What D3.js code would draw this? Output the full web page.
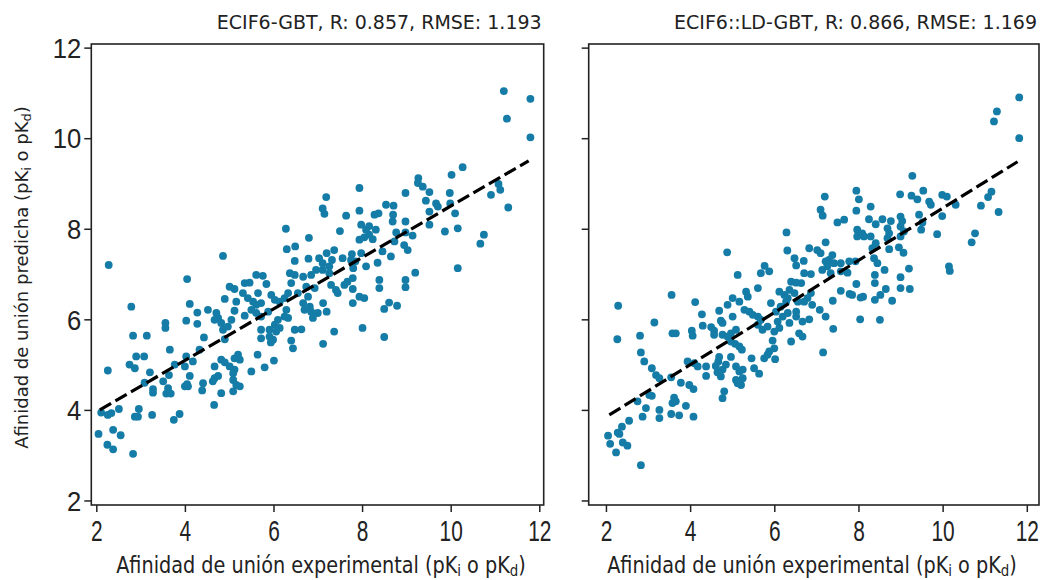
<!DOCTYPE html>
<html>
<head>
<meta charset="utf-8">
<script src="https://cdn.jsdelivr.net/npm/d3@7"></script>
<style>
  body { margin: 0; background: #fff; }
  svg { display: block; font-family: "DejaVu Sans", sans-serif; }
</style>
</head>
<body>
<div id="chart"></div>
<script>
// tick values shared by both panels
var ticks = [2, 4, 6, 8, 10, 12];

var titles = ["ECIF6-GBT, R: 0.857, RMSE: 1.193", "ECIF6::LD-GBT, R: 0.866, RMSE: 1.169"];

// [experimental, predicted]
var gbtPoints = [
  [2.28,7.20],[4.86,7.40],[6.28,8.00],[6.80,7.80],[6.30,7.55],[6.49,7.61],[6.48,7.29],[6.79,7.34],
  [11.20,11.04],[11.80,10.87],[11.27,10.43],[11.80,10.02],[10.27,9.36],[10.02,9.19],[9.27,9.12],[9.26,9.01],
  [9.37,8.93],[9.52,8.81],[8.98,8.79],[7.94,8.90],[7.19,8.70],[7.11,8.45],[7.15,8.33],[9.98,8.79],
  [11.08,8.99],[11.12,8.86],[10.91,8.75],[11.30,8.47],[9.44,8.62],[9.67,8.56],[9.71,8.49],[9.99,8.56],
  [9.52,8.38],[10.10,8.34],[8.54,8.53],[8.71,8.51],[7.64,8.29],[7.94,8.40],[8.28,8.31],[8.37,8.34],
  [8.70,8.31],[8.69,8.16],[8.98,8.16],[9.52,8.09],[7.50,7.95],[7.98,8.09],[8.16,8.06],[8.09,7.98],
  [8.31,7.98],[8.16,7.87],[7.94,7.76],[8.05,7.81],[8.24,7.77],[8.77,7.92],[8.98,7.92],[9.14,7.85],
  [9.87,7.94],[10.16,8.01],[8.73,7.72],[8.95,7.64],[9.03,7.53],[8.46,7.50],[8.65,7.39],[9.20,7.03],
  [10.16,7.13],[10.75,7.87],[10.67,7.67],[7.98,7.46],[7.77,7.44],[8.35,7.25],[8.09,7.17],[7.85,7.28],
  [7.37,7.53],[7.20,7.46],[7.56,7.35],[7.32,7.31],[7.03,7.35],[7.11,7.24],[7.26,7.17],[6.96,7.09],
  [7.11,7.09],[7.75,7.31],[7.80,7.13],
  [4.05,6.89],[2.79,6.28],[4.11,6.34],[4.28,6.15],[4.03,5.97],[4.28,5.90],[3.56,5.92],[3.56,5.81],
  [2.83,5.64],[3.14,5.64],[4.43,5.60],[3.66,5.33],[2.90,5.18],[3.08,5.18],[2.26,4.87],[2.75,5.00],
  [2.87,4.92],[3.21,4.83],[3.09,4.60],[3.28,4.46],[3.28,4.38],[3.51,4.63],[3.62,4.48],[3.58,4.36],
  [3.68,4.36],[3.64,4.77],[3.77,5.00],[4.00,4.96],[4.18,5.07],[4.03,5.18],[4.11,4.75],[4.00,4.52],
  [4.07,4.52],[4.05,4.57],[4.41,4.59],[4.39,4.43],[4.66,4.11],[3.88,3.91],[3.75,3.78],[3.26,3.89],
  [2.96,4.02],[2.87,3.85],[2.94,3.85],[2.51,4.02],[2.11,3.94],[2.26,3.89],[2.34,3.93],[2.05,3.47],
  [2.38,3.56],[2.55,3.44],[2.25,3.23],[2.38,3.13],[2.83,3.03],
  [4.52,6.21],[4.71,6.14],[4.75,6.03],[4.67,5.99],[4.82,5.92],[4.86,5.77],[4.97,5.84],[4.90,5.56],
  [5.12,6.19],[5.05,5.99],[4.90,6.45],[5.01,6.72],[5.12,6.67],[5.16,6.39],[5.35,6.80],[5.46,6.81],
  [5.31,6.58],[5.42,6.47],[5.54,6.39],[5.35,6.08],[5.61,6.98],[5.76,6.96],[5.84,6.78],[5.65,6.58],
  [5.72,6.36],[5.61,6.32],[5.50,6.21],[5.61,6.14],[5.72,6.06],[5.88,6.17],[5.95,6.54],[6.03,6.43],
  [6.14,6.39],[6.25,6.47],[6.33,6.58],[6.40,6.80],[6.37,7.02],[6.48,6.98],[6.67,6.94],[6.85,6.98],
  [6.74,6.72],[6.93,6.69],[6.55,6.58],[6.78,6.50],[6.67,6.36],[6.82,6.28],[6.70,6.21],[6.85,6.17],
  [7.00,6.14],[6.89,6.03],[6.29,6.21],[6.25,6.06],[6.33,6.03],[6.10,5.99],[6.03,5.88],[5.91,5.77],
  [6.14,5.81],[6.06,5.73],[5.72,5.77],[5.91,5.62],[5.99,5.55],[5.94,5.49],[5.72,5.58],[6.48,5.77],
  [6.63,5.78],[6.40,5.53],[6.44,5.36],[5.64,5.22],[6.01,5.09],[5.80,4.94],[5.50,4.85],[5.20,5.22],
  [5.12,5.14],[5.24,5.11],[5.01,4.96],[5.12,4.89],[5.09,4.81],[4.82,5.11],[4.90,5.05],[4.67,4.96],
  [4.75,4.75],[4.67,4.70],[4.63,4.63],[5.09,4.66],[5.16,4.55],[5.24,4.52],[5.09,4.41],[4.82,4.37],
  [4.33,5.33],
  [7.26,7.02],[7.30,6.76],[7.41,6.65],[7.45,6.58],[7.60,6.76],[7.67,6.83],[7.79,6.91],[7.79,6.67],
  [7.79,6.36],[7.94,6.50],[8.05,6.47],[8.39,6.87],[8.39,6.69],[8.98,6.87],[8.98,6.71],[8.61,6.37],
  [8.79,6.30],[8.50,6.23],[7.12,6.36],[7.20,6.17],[7.37,5.73],[8.01,5.81],[8.50,5.61],[7.12,5.46]
];

var ldPoints = [
  [4.88,7.48],[6.29,7.92],[6.31,7.52],[5.77,7.18],[6.48,7.35],[6.52,7.19],[6.70,7.29],[5.13,6.98],
  [5.68,7.02],[5.88,7.06],
  [11.82,10.90],[11.29,10.59],[11.22,10.37],[11.82,10.00],[9.28,9.17],[7.95,8.84],[7.20,8.71],[8.01,8.65],
  [8.99,8.76],[9.26,8.73],[9.40,8.65],[9.54,8.84],[9.68,8.60],[9.72,8.53],[9.99,8.75],[10.10,8.71],
  [10.31,8.53],[10.91,8.51],[11.08,8.70],[11.16,8.82],[11.33,8.37],[8.29,8.49],[7.10,8.42],[7.15,8.29],
  [7.95,8.40],[7.50,8.14],[7.66,8.20],[8.25,8.21],[8.41,8.10],[8.57,8.21],[8.77,8.17],[9.00,8.27],
  [9.04,8.17],[9.44,8.31],[9.52,8.14],[9.49,7.98],[9.99,8.28],[9.87,7.88],[10.77,7.90],[10.69,7.70],
  [7.97,7.98],[8.09,7.90],[7.97,7.83],[8.13,7.83],[8.69,8.01],[8.73,7.90],[8.69,7.79],[8.29,7.83],
  [8.41,7.68],[9.00,8.05],[9.08,7.94],[9.00,7.83],[7.22,7.70],[6.83,7.57],[7.02,7.53],[7.10,7.46],
  [7.38,7.42],[7.30,7.31],[7.22,7.28],[7.42,7.24],[7.26,7.17],[7.58,7.24],[7.78,7.28],[7.93,7.28],
  [8.33,7.57],[8.37,7.35],[8.45,7.24],[8.73,7.55],[8.96,7.59],[9.07,7.47],[8.62,7.09],[9.20,7.12],
  [10.15,7.17],[10.17,7.07],[6.87,7.00],[7.14,7.09],[7.34,7.02],[7.58,7.06],
  [2.29,6.30],[2.27,5.56],[3.56,6.54],[3.15,5.93],[2.81,5.64],[3.58,5.69],[3.66,5.69],[4.12,6.38],
  [4.04,5.75],[4.06,5.64],[4.28,6.11],[2.83,5.27],[2.91,5.07],[3.09,4.92],[3.19,4.77],[3.27,4.70],
  [3.55,4.72],[3.78,4.60],[3.98,4.55],[4.08,4.46],[3.94,5.07],[4.10,5.03],[4.18,4.96],[2.75,4.19],
  [3.03,4.33],[3.09,4.31],[2.95,4.04],[2.87,3.85],[3.27,4.00],[3.27,3.82],[3.62,4.27],[3.66,4.19],
  [3.58,4.15],[3.55,3.91],[3.74,3.88],[3.90,4.09],[4.08,3.85],[2.55,3.76],[2.38,3.63],[2.28,3.50],
  [2.32,3.47],[2.05,3.43],[2.10,3.25],[2.24,3.06],[2.40,3.28],[2.51,3.21],[2.83,2.78],
  [4.30,5.86],[4.50,5.83],[4.57,5.75],[4.73,5.97],[4.77,5.92],[4.69,6.19],[4.89,6.32],[5.01,6.47],
  [5.17,6.39],[5.33,6.61],[5.37,6.50],[5.61,6.69],[5.29,6.21],[5.41,6.17],[5.49,6.10],[5.61,6.06],
  [5.01,6.06],[5.09,5.77],[4.97,5.69],[4.57,5.66],[4.77,5.66],[4.89,5.62],[4.97,5.51],[5.07,5.46],
  [5.17,5.40],[5.23,5.33],[4.69,5.17],[4.67,5.07],[4.61,4.97],[4.38,4.96],[4.38,4.75],[4.77,4.89],
  [4.85,5.00],[4.65,4.83],[4.73,4.74],[4.81,4.41],[4.77,4.26],[4.97,5.17],[5.09,4.96],[5.17,4.85],
  [5.09,4.66],[5.21,4.55],[5.13,4.59],[5.25,4.70],[5.25,4.89],[5.46,5.14],[5.52,4.92],[5.64,4.80],
  [5.76,5.14],[5.84,5.22],[6.02,5.12],[5.96,5.53],[6.00,5.36],[5.88,5.29],[5.72,5.77],[5.84,5.84],
  [6.00,5.73],[6.12,5.81],[6.08,5.95],[6.20,6.06],[5.61,5.88],[5.68,5.99],[5.92,6.36],[6.04,6.17],
  [6.15,6.28],[6.28,6.39],[6.12,6.61],[6.24,6.54],[6.36,6.65],[6.32,6.47],[6.48,6.58],[6.56,6.39],
  [6.40,6.83],[6.52,6.81],[6.64,6.80],[6.32,6.14],[6.52,6.17],[6.52,6.06],[6.67,5.95],[6.59,5.69],
  [6.67,5.62],[6.40,5.51],[6.36,5.92],
  [6.71,7.02],[7.74,7.03],[6.87,6.58],[6.79,6.47],[6.71,6.39],[6.90,6.32],[7.08,6.21],[7.22,6.06],
  [6.83,6.00],[7.39,6.41],[7.58,6.63],[7.79,6.56],[7.85,6.54],[8.05,6.48],[8.11,6.50],[7.95,6.78],
  [8.39,6.98],[8.39,6.80],[8.65,6.67],[8.52,6.54],[8.39,6.43],[8.80,6.41],[9.00,6.93],[9.00,6.69],
  [9.22,6.67],[8.04,6.00],[8.51,5.99],[7.40,5.79],[7.16,5.27]
];

// fitted lines (end points)
var gbtFitX = [2.08, 11.76], gbtFitY = [4.00, 9.50];
var ldFitX = [2.08, 11.78], ldFitY = [3.89, 9.48];

var w = 1042, h = 580;
var plotTop = 44, plotBottom = 505;
var dotColor = "#147ca6";
var ink = "#222";

var svg = d3.select("#chart").append("svg")
    .attr("width", w)
    .attr("height", h);

var panels = [
  {left: 91.3, right: 543.7, xdom: [1.887, 12.1], pts: gbtPoints, fx: gbtFitX, fy: gbtFitY, title: titles[0], yLabels: true, labelX: 321},
  {left: 588.7, right: 1039, xdom: [1.59, 12.29], pts: ldPoints, fx: ldFitX, fy: ldFitY, title: titles[1], yLabels: false, labelX: 812}
];

var y = d3.scaleLinear().domain([1.9, 12.08]).range([plotBottom, plotTop]);

// squeeze a text sideways to a given width
function squeeze(t, cx, cy, width) {
    var len = t.node().getComputedTextLength();
    t.attr("transform", "translate(" + cx + "," + cy + ") scale(" + (width / len) + ",1)");
}

// text with subscripts: parts alternate normal / sub
function subText(t, parts, size, k) {
    var sub = Math.round(size * 0.7), shift = size * k;
    parts.forEach(function(p, i) {
        var s = t.append("tspan").text(p);
        if (i % 2 == 1) {
            s.attr("font-size", sub).attr("dy", shift);
        } else if (i > 0) {
            s.attr("dy", -shift);
        }
    });
}

panels.forEach(function(p) {
    var x = d3.scaleLinear().domain(p.xdom).range([p.left, p.right]);
    var g = svg.append("g");

    g.append("g").selectAll("circle")
        .data(p.pts)
        .enter()
        .append("circle")
        .attr("cx", function(d) { return x(d[0]); })
        .attr("cy", function(d) { return y(d[1]); })
        .attr("r", 3.9)
        .attr("fill", dotColor);

    var line = d3.line()
        .x(function(d) { return x(d[0]); })
        .y(function(d) { return y(d[1]); });
    g.append("path")
        .datum(p.fx.map(function(v, i) { return [v, p.fy[i]]; }))
        .attr("d", line)
        .attr("fill", "none")
        .attr("stroke", "#000")
        .attr("stroke-width", 3.2)
        .attr("stroke-dasharray", "13,5");

    g.append("rect")
        .attr("x", p.left).attr("y", plotTop)
        .attr("width", p.right - p.left).attr("height", plotBottom - plotTop)
        .attr("fill", "none")
        .attr("stroke", ink)
        .attr("stroke-width", 1.6);

    var xa = g.append("g")
        .attr("transform", "translate(0," + plotBottom + ")")
        .call(d3.axisBottom(x).tickValues(ticks).tickSize(7).tickSizeOuter(0));
    xa.select(".domain").remove();
    xa.selectAll("line").attr("stroke", ink).attr("stroke-width", 1.5);
    xa.selectAll("text")
        .attr("y", null).attr("dy", null)
        .attr("fill", ink)
        .attr("font-size", 29)
        .attr("transform", "translate(0,36) scale(0.72,1)");

    var ya = g.append("g")
        .attr("transform", "translate(" + p.left + ",0)")
        .call(d3.axisLeft(y).tickValues(ticks).tickSize(7).tickSizeOuter(0)
            .tickFormat(p.yLabels ? d3.format("d") : ""));
    ya.select(".domain").remove();
    ya.selectAll("line").attr("stroke", ink).attr("stroke-width", 1.5);
    ya.selectAll("text")
        .attr("x", null).attr("dy", "0.36em")
        .attr("fill", ink)
        .attr("font-size", 27)
        .attr("transform", "translate(-10,0) scale(0.95,1)");

    g.append("text")
        .attr("x", p.right - 2)
        .attr("y", 29)
        .attr("text-anchor", "end")
        .attr("font-size", 19)
        .attr("fill", ink)
        .text(p.title);

    var xl = g.append("text")
        .attr("text-anchor", "middle")
        .attr("font-size", 23)
        .attr("fill", ink);
    subText(xl, ["Afinidad de unión experimental (pK", "i", " o pK", "d", ")"], 23, 0.13);
    squeeze(xl, p.labelX, 573, 410);
});

var yl = svg.append("text")
    .attr("text-anchor", "middle")
    .attr("font-size", 18)
    .attr("fill", ink)
    .attr("transform", "translate(28,277.5) rotate(-90)");
subText(yl, ["Afinidad de unión predicha (pK", "i", " o pK", "d", ")"], 18, 0.17);
</script>
</body>
</html>
